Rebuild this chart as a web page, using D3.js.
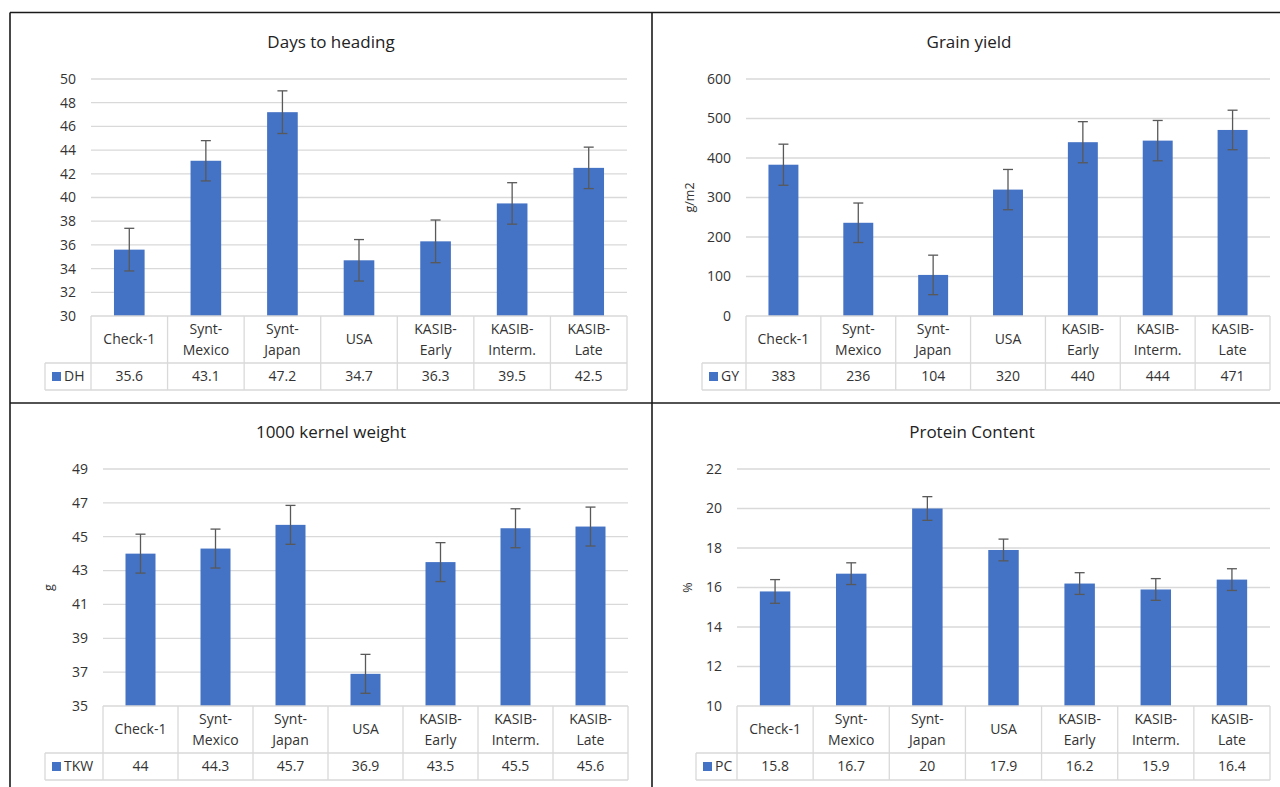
<!DOCTYPE html>
<html>
<head>
<meta charset="utf-8">
<script src="https://cdn.jsdelivr.net/npm/d3@7"></script>
<style>
  body { margin: 0; background: #fff; }
  svg { display: block; font-family: "Open Sans", "Noto Sans", sans-serif; }
</style>
</head>
<body>
<div id="chart"></div>
<script>
const width = 1280;
const height = 787;

// データ
const categories = ["Check-1", "Synt-Mexico", "Synt-Japan", "USA", "KASIB-Early", "KASIB-Interm.", "KASIB-Late"];
const categoryLines = [["Check-1"], ["Synt-", "Mexico"], ["Synt-", "Japan"], ["USA"], ["KASIB-", "Early"], ["KASIB-", "Interm."], ["KASIB-", "Late"]];

const dhValues = [35.6, 43.1, 47.2, 34.7, 36.3, 39.5, 42.5];
const dhErrors = [1.8, 1.7, 1.8, 1.75, 1.8, 1.75, 1.75];
const dhTicks = [30, 32, 34, 36, 38, 40, 42, 44, 46, 48, 50];

const gyValues = [383, 236, 104, 320, 440, 444, 471];
const gyErrors = [52, 50, 50, 51, 52, 51, 50];
const gyTicks = [0, 100, 200, 300, 400, 500, 600];

const tkwValues = [44, 44.3, 45.7, 36.9, 43.5, 45.5, 45.6];
const tkwErrors = [1.15, 1.15, 1.15, 1.15, 1.15, 1.15, 1.15];
const tkwTicks = [35, 37, 39, 41, 43, 45, 47, 49];

const pcValues = [15.8, 16.7, 20, 17.9, 16.2, 15.9, 16.4];
const pcErrors = [0.6, 0.55, 0.6, 0.55, 0.55, 0.55, 0.55];
const pcTicks = [10, 12, 14, 16, 18, 20, 22];

const barColor = "#4472c4";
const gridColor = "#d9d9d9";
const textColor = "#333333";

const svg = d3.select("#chart")
  .append("svg")
  .attr("width", width)
  .attr("height", height);

// =====================
// パネル描画
// =====================
function drawPanel(p) {
  const g = svg.append("g");

  const x = d3.scaleBand()
    .domain(categories)
    .range([p.x0, p.x1])
    .paddingInner(0)
    .paddingOuter(0);

  const y = d3.scaleLinear()
    .domain([p.ticks[0], p.ticks[p.ticks.length - 1]])
    .range([p.yBot, p.yTop]);

  // タイトル
  g.append("text")
    .attr("x", p.cx)
    .attr("y", p.yTop - 31)
    .attr("text-anchor", "middle")
    .attr("font-size", 17)
    .attr("fill", "#222")
    .text(p.title);

  // グリッド
  g.selectAll(".grid")
    .data(p.ticks.slice(1))
    .enter()
    .append("line")
    .attr("x1", p.x0)
    .attr("x2", p.x1)
    .attr("y1", d => y(d))
    .attr("y2", d => y(d))
    .attr("stroke", gridColor)
    .attr("stroke-width", 1.3);

  // 目盛りラベル
  g.selectAll(".tick")
    .data(p.ticks)
    .enter()
    .append("text")
    .attr("x", p.x0 - 15)
    .attr("y", d => y(d))
    .attr("dy", "0.35em")
    .attr("text-anchor", "end")
    .attr("font-size", 14)
    .attr("fill", textColor)
    .text(d => d);

  // 軸ラベル
  if (p.yLabel) {
    g.append("text")
      .attr("transform", `translate(${p.yLabelX},${(p.yTop + p.yBot) / 2}) rotate(-90)`)
      .attr("text-anchor", "middle")
      .attr("font-size", 12.5)
      .attr("fill", textColor)
      .text(p.yLabel);
  }

  // 棒
  const bw = x.bandwidth() * 0.4;
  g.selectAll(".bar")
    .data(p.values)
    .enter()
    .append("rect")
    .attr("x", (d, i) => x(categories[i]) + x.bandwidth() / 2 - bw / 2)
    .attr("y", d => y(d))
    .attr("width", bw)
    .attr("height", d => p.yBot - y(d))
    .attr("fill", barColor);

  // エラーバー
  const eb = g.selectAll(".err")
    .data(p.values)
    .enter()
    .append("g")
    .attr("stroke", "#595959")
    .attr("stroke-width", 1.3);
  eb.append("line")
    .attr("x1", (d, i) => x(categories[i]) + x.bandwidth() / 2)
    .attr("x2", (d, i) => x(categories[i]) + x.bandwidth() / 2)
    .attr("y1", (d, i) => y(d + p.errors[i]))
    .attr("y2", (d, i) => y(d - p.errors[i]));
  [1, -1].forEach(s => {
    eb.append("line")
      .attr("x1", (d, i) => x(categories[i]) + x.bandwidth() / 2 - 5)
      .attr("x2", (d, i) => x(categories[i]) + x.bandwidth() / 2 + 5)
      .attr("y1", (d, i) => y(d + s * p.errors[i]))
      .attr("y2", (d, i) => y(d + s * p.errors[i]));
  });

  // データテーブル
  const r0 = p.yBot, r1 = p.yBot + 47, r2 = p.yBot + 74;
  const tbl = g.append("g")
    .attr("stroke", gridColor)
    .attr("stroke-width", 1.3);
  tbl.append("line").attr("x1", p.x0).attr("x2", p.x1).attr("y1", r0).attr("y2", r0);
  tbl.append("line").attr("x1", p.legendX).attr("x2", p.x1).attr("y1", r1).attr("y2", r1);
  tbl.append("line").attr("x1", p.legendX).attr("x2", p.x1).attr("y1", r2).attr("y2", r2);
  tbl.append("line").attr("x1", p.legendX).attr("x2", p.legendX).attr("y1", r1).attr("y2", r2);
  tbl.selectAll(".vl")
    .data(categories.concat(["end"]))
    .enter()
    .append("line")
    .attr("x1", d => d === "end" ? p.x1 : x(d))
    .attr("x2", d => d === "end" ? p.x1 : x(d))
    .attr("y1", r0)
    .attr("y2", r2);

  // カテゴリー名
  categories.forEach((c, i) => {
    const lines = categoryLines[i];
    const cx = x(c) + x.bandwidth() / 2;
    const midY = (r0 + r1) / 2;
    lines.forEach((ln, j) => {
      g.append("text")
        .attr("x", cx)
        .attr("y", midY + (j - (lines.length - 1) / 2) * 21)
        .attr("dy", "0.35em")
        .attr("text-anchor", "middle")
        .attr("font-size", 14)
        .attr("fill", textColor)
        .text(ln);
    });
    g.append("text")
      .attr("x", cx)
      .attr("y", (r1 + r2) / 2)
      .attr("dy", "0.35em")
      .attr("text-anchor", "middle")
      .attr("font-size", 14)
      .attr("fill", textColor)
      .text(p.values[i]);
  });

  // 凡例キー
  g.append("rect")
    .attr("x", p.legendX + 7)
    .attr("y", (r1 + r2) / 2 - 4.5)
    .attr("width", 9)
    .attr("height", 9)
    .attr("fill", barColor);
  g.append("text")
    .attr("x", p.legendX + 19)
    .attr("y", (r1 + r2) / 2)
    .attr("dy", "0.35em")
    .attr("font-size", 14)
    .attr("fill", textColor)
    .text(p.series);
}

drawPanel({ title: "Days to heading", series: "DH", values: dhValues, errors: dhErrors, ticks: dhTicks,
  cx: 331, x0: 91, x1: 627, yTop: 79, yBot: 316, legendX: 45 });
drawPanel({ title: "Grain yield", series: "GY", values: gyValues, errors: gyErrors, ticks: gyTicks,
  cx: 969, x0: 746, x1: 1270, yTop: 79, yBot: 316, legendX: 702, yLabel: "g/m2", yLabelX: 694 });
drawPanel({ title: "1000 kernel weight", series: "TKW", values: tkwValues, errors: tkwErrors, ticks: tkwTicks,
  cx: 331, x0: 103, x1: 628, yTop: 469, yBot: 706, legendX: 45, yLabel: "g", yLabelX: 53 });
drawPanel({ title: "Protein Content", series: "PC", values: pcValues, errors: pcErrors, ticks: pcTicks,
  cx: 972, x0: 737, x1: 1270, yTop: 469, yBot: 706, legendX: 696, yLabel: "%", yLabelX: 692 });

// 枠線
const frame = svg.append("g").attr("stroke", "#1a1a1a").attr("stroke-width", 1.6);
frame.append("line").attr("x1", 10).attr("x2", width).attr("y1", 12.5).attr("y2", 12.5);
frame.append("line").attr("x1", 10).attr("x2", 10).attr("y1", 12.5).attr("y2", height);
frame.append("line").attr("x1", 652).attr("x2", 652).attr("y1", 12.5).attr("y2", height);
frame.append("line").attr("x1", 10).attr("x2", width).attr("y1", 403).attr("y2", 403);
</script>
</body>
</html>
